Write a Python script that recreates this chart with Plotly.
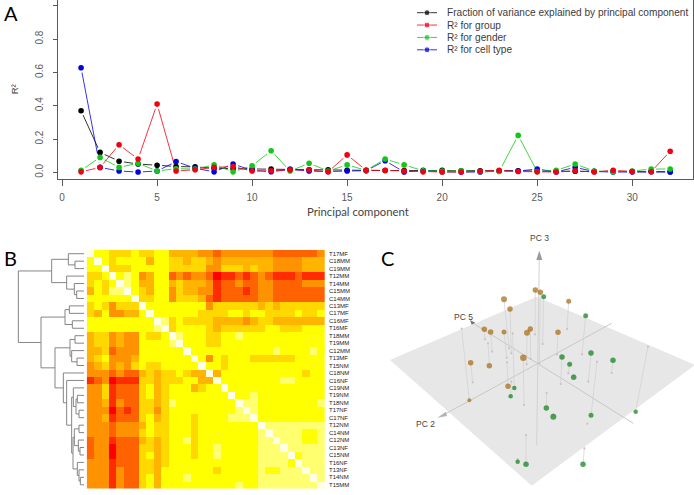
import plotly.graph_objects as go

W, H = 694, 495

# ---------- Panel A data ----------
pc = list(range(1, 33))
r2_variance = [0.37, 0.12, 0.067, 0.05, 0.043, 0.035, 0.033, 0.025, 0.022, 0.02, 0.02, 0.018, 0.016, 0.015, 0.013, 0.012,
               0.011, 0.011, 0.01, 0.012, 0.009, 0.009, 0.008, 0.01, 0.007, 0.007, 0.007, 0.006, 0.006, 0.005, 0.005, 0.004]
r2_group = [0.003, 0.03, 0.166, 0.08, 0.41, 0.008, 0.016, 0.03, 0.035, 0.008, 0.01, 0.015, 0.015, 0.003, 0.105, 0.012,
            0.012, 0.008, 0.003, 0.002, 0.002, 0.007, 0.012, 0.005, 0.003, 0.002, 0.009, 0.002, 0.013, 0.005, 0.004, 0.127]
r2_gender = [0.012, 0.09, 0.03, 0.055, 0.008, 0.022, 0.02, 0.045, 0.003, 0.04, 0.13, 0.008, 0.055, 0.008, 0.045, 0.012,
             0.08, 0.045, 0.01, 0.008, 0.01, 0.005, 0.005, 0.222, 0.005, 0.012, 0.05, 0.008, 0.003, 0.008, 0.02, 0.02]
r2_cell = [0.628, 0.03, 0.008, 0.002, 0.008, 0.065, 0.025, 0.003, 0.05, 0.012, 0.004, 0.018, 0.008, 0.005, 0.008, 0.01,
           0.07, 0.002, 0.012, 0.004, 0.002, 0.002, 0.008, 0.008, 0.02, 0.003, 0.03, 0.005, 0.002, 0.003, 0.005, 0.002]
legend_names = ["Fraction of variance explained by principal component", "R² for group", "R² for gender",
                "R² for cell type"]
legend_colors = ["#000000", "#f00010", "#10c818", "#0000e0"]

# ---------- Panel B data ----------
sample_labels = ["T17MF", "C18MM", "C19MM", "T12MM", "T14MM", "C15MM", "C14MM", "C13MF", "C17MF", "C16MF", "T16MF",
                 "T18MM", "T19MM", "C12MM", "T13MF", "T15NM", "C18NM", "C16NF", "C19NM", "T19NM", "T18NM", "T17NF",
                 "C17NF", "T12NM", "C14NM", "C12NM", "C13NF", "C15NM", "T16NF", "T13NF", "T14NM", "T15MM"]
heat_rows = [
    "9665556556 6444433233 3333322222 23",
    "6965666646 6554554344 4444433334 44",
    "6695556666 6555553355 5454433334 44",
    "5569676346 6232332011 2123211121 11",
    "5656976446 6454443122 3223322223 33",
    "4657796546 6354433122 2123322222 22",
    "6666669556 6355542122 2223322222 22",
    "5653555966 6666663555 5554545555 55",
    "5463344696 6666655556 6566555565 56",
    "6666666669 7565555444 4345544444 44",
    "6666666667 9566665455 5555665556 66",
    "4553433655 6976665566 7666666666 66",
    "4553433666 6796665566 6666666666 66",
    "4452333666 6669666666 6666676666 76",
    "4563334666 6666963656 6655555566 66",
    "3453435655 6666696656 6666666666 66",
    "3332322454 5565449466 6666666665 66",
    "1230111554 5556644966 6666667766 66",
    "3351222564 5666456696 6666666666 66",
    "3351222564 5666666669 6676666666 66",
    "3341322554 5766666666 9776666666 67",
    "3330212553 5666666666 7976666666 66",
    "3341222564 5666566667 7796666666 66",
    "3332333465 5666566666 6669777777 77",
    "3332333565 5666566666 6667977776 67",
    "2331222454 5667566666 6667797776 67",
    "2330222554 5666566766 6667779777 77",
    "2330222564 5666566766 6667777967 77",
    "3331222554 5666666666 6667777697 77",
    "3331322554 6666666566 6667667779 77",
    "3331322564 6667666666 6667777777 97",
    "3331322564 6666666666 7667777777 79",
]
heat_colors = ["#ff0000", "#ff2c00", "#ff6200", "#ff9200", "#ffb400", "#ffd800",
               "#ffff00", "#ffff70", "#ffffb8", "#ffffe6"]

# merge tree: (branch height, left, right); integers are rows of the heat map
dendro_tree = (197,
    (97, (47, 0, (27, 1, 2)), (52, 3, (29, 4, (22, 5, 6)))),
    (129,
        (57, (44, 7, 8), (35, 9, 10)),
        (87,
            (42, (27, 11, 12), (37, 13, (21, 14, 15))),
            (62, 16, (52, 17,
                (37,
                    (32, 18, (24, (20, 19, 20), (15, 21, 22))),
                    (33,
                        (29, (15, 23, 24), (17, 25, (12, 26, 27))),
                        (20, 28, (15, 29, (11, 30, 31))))))))))

# ---------- Panel C data (projected view of PC2 / PC5 / PC3) ----------
plane_x = [470, 945, 455, 30, 470]
plane_y = [185, 390, 752, 375, 185]
pc2_axis_x, pc2_axis_y = [695, 190], [265, 540]
pc5_axis_x, pc5_axis_y = [275, 760], [262, 565]
pc3_axis_x, pc3_axis_y = [478, 470], [60, 630]
pc3_head_x, pc3_head_y = [478, 469, 487, 478], [47, 75, 75, 47]
pc5_head_x, pc5_head_y = [270, 286, 275, 270], [255, 263, 269, 255]
pc2_head_x, pc2_head_y = [172, 198, 201, 172], [548, 530, 543, 548]

orange_x = [466, 481, 372, 390, 566, 313, 332, 372, 451, 441, 534, 430, 272, 328, 384, 268]
orange_y = [165, 172, 193, 222, 199, 283, 291, 291, 282, 293, 292, 368, 383, 392, 454, 496]
orange_size = [5, 5, 5.5, 5, 4.5, 5, 5, 4.5, 5, 5.5, 5, 6, 5, 5, 5, 3.5]
orange_base_x = [465, 478, 387, 394, 561, 315, 336, 380, 452, 440, 531, 432, 278, 324, 381, 245]
orange_base_y = [298, 385, 340, 355, 282, 313, 350, 368, 372, 388, 358, 510, 442, 325, 382, 281]

green_x = [491, 617, 633, 546, 699, 569, 581, 403, 392, 499, 633, 520, 767, 413, 438, 609]
green_y = [185, 242, 354, 366, 376, 388, 427, 459, 484, 519, 541, 545, 530, 680, 688, 688]
green_size = [4.5, 4.5, 5, 5, 5, 4.5, 5, 4, 4, 5, 4.5, 5.5, 4, 4, 5, 5]
green_base_x = [488, 606, 625, 542, 695, 565, 581, 398, 394, 500, 651, 520, 804, 413, 438, 613]
green_base_y = [327, 358, 440, 447, 414, 415, 420, 295, 440, 474, 380, 538, 335, 672, 600, 640]
extra_base_x = [622]
extra_base_y = [566]


def fx(px):
    return px / W


def fy(px):
    return 1 - px / H


fig = go.Figure()

# ---------- A ----------
series = [(legend_names[0], r2_variance, legend_colors[0]),
          (legend_names[3], r2_cell, legend_colors[3]),
          (legend_names[2], r2_gender, legend_colors[2]),
          (legend_names[1], r2_group, legend_colors[1])]
for name, vals, col in series:
    fig.add_trace(go.Scatter(x=pc, y=vals, mode="lines+markers", showlegend=False, name=name, hoverinfo="skip",
                             line=dict(color=col, width=0.8), marker=dict(color="white", size=10)))
for name, vals, col in series:
    fig.add_trace(go.Scatter(x=pc, y=vals, mode="markers", showlegend=False, name=name, cliponaxis=False,
                             marker=dict(color=col, size=5.6)))
# key drawn in its own small axis so rows can sit as tightly as the reference's
for i, (name, col) in enumerate(zip(legend_names, legend_colors)):
    fig.add_trace(go.Scatter(x=[0, 1, 2], y=[i, i, i], xaxis="x5", yaxis="y5", mode="lines+markers", showlegend=False,
                             name=name, line=dict(color=col, width=0.8), marker=dict(color=col, size=[0, 6, 0])))

# ---------- B ----------
z = [[int(c) for c in row.replace(" ", "")] for row in heat_rows]
n_levels = len(heat_colors) - 1
fig.add_trace(go.Heatmap(z=z, x=sample_labels, y=sample_labels, xaxis="x2", yaxis="y2", showscale=False, zmin=0,
                         zmax=n_levels, xgap=0, ygap=0,
                         colorscale=[[i / n_levels, c] for i, c in enumerate(heat_colors)]))

seg_x, seg_y = [], []


def walk(node):
    if isinstance(node, int):
        return node, 0
    h, a, b = node
    ya, ha = walk(a)
    yb, hb = walk(b)
    seg_x.extend([ha, h, h, hb, None])
    seg_y.extend([ya, ya, yb, yb, None])
    return (ya + yb) / 2, h


walk(dendro_tree)
fig.add_trace(go.Scatter(x=seg_x, y=seg_y, xaxis="x3", yaxis="y3", mode="lines", showlegend=False,
                         line=dict(color="#858585", width=1)))

# ---------- C ----------
fig.add_trace(go.Scatter(x=plane_x, y=plane_y, xaxis="x4", yaxis="y4", mode="lines", fill="toself",
                         fillcolor="#e7e7e7", line=dict(width=0), showlegend=False))
for ax, ay, col in [(pc2_axis_x, pc2_axis_y, "#c8c8c8"), (pc5_axis_x, pc5_axis_y, "#c8c8c8"),
                    (pc3_axis_x, pc3_axis_y, "#d2d2d2")]:
    fig.add_trace(go.Scatter(x=ax, y=ay, xaxis="x4", yaxis="y4", mode="lines", showlegend=False,
                             line=dict(color=col, width=1)))
for ax, ay, col in [(pc3_head_x, pc3_head_y, "#9a9a9a"), (pc5_head_x, pc5_head_y, "#777777"),
                    (pc2_head_x, pc2_head_y, "#b4b4b4")]:
    fig.add_trace(go.Scatter(x=ax, y=ay, xaxis="x4", yaxis="y4", mode="lines", fill="toself", fillcolor=col,
                             line=dict(width=0), showlegend=False))
stem_x, stem_y = [], []
for xs, ys, bx, by in [(orange_x, orange_y, orange_base_x, orange_base_y),
                       (green_x, green_y, green_base_x, green_base_y)]:
    for a, b, c, d in zip(xs, ys, bx, by):
        stem_x.extend([a, c, None])
        stem_y.extend([b, d, None])
fig.add_trace(go.Scatter(x=stem_x, y=stem_y, xaxis="x4", yaxis="y4", mode="lines", showlegend=False,
                         line=dict(color="#d0d0d0", width=0.7)))
fig.add_trace(go.Scatter(x=orange_base_x + green_base_x + extra_base_x, y=orange_base_y + green_base_y + extra_base_y,
                         xaxis="x4", yaxis="y4", mode="markers", showlegend=False,
                         marker=dict(color="#c4c4c4", size=2.2)))
fig.add_trace(go.Scatter(x=orange_x, y=orange_y, xaxis="x4", yaxis="y4", mode="markers", showlegend=False,
                         marker=dict(color="#a56a0e", size=[s + 0.5 for s in orange_size], line=dict(width=0))))
fig.add_trace(go.Scatter(x=green_x, y=green_y, xaxis="x4", yaxis="y4", mode="markers", showlegend=False,
                         marker=dict(color="#0a7d18", size=[s + 0.5 for s in green_size], line=dict(width=0))))

letter = dict(font=dict(family="Lato", size=20, color="#000000"), showarrow=False, xref="paper", yref="paper",
              xanchor="left", yanchor="middle")
small = dict(font=dict(family="Liberation Sans", size=8.5, color="#444444"), showarrow=False, xref="x4", yref="y4")
key = dict(font=dict(family="Liberation Sans", size=10.1, color="#3c3c3c"), showarrow=False, xref="paper", yref="y5",
           xanchor="left", x=fx(445))

grey = "#5a5a5a"
fig.update_layout(
    width=W, height=H, margin=dict(l=0, r=0, t=0, b=0), paper_bgcolor="white", plot_bgcolor="rgba(0,0,0,0)",
    font=dict(family="Liberation Sans", color=grey, size=10),
    showlegend=False,
    xaxis=dict(domain=[fx(57.5), fx(693)], range=[-0.24, 33.2], tickvals=[0, 5, 10, 15, 20, 25, 30], ticks="outside",
               ticklen=6, tickcolor=grey, showgrid=False, zeroline=False, showline=True, linecolor=grey, mirror=True,
               ticklabelstandoff=3),
    yaxis=dict(domain=[fy(178.7), fy(0)], range=[-0.038, 1.035], tickvals=[0, 0.2, 0.4, 0.6, 0.8, 1], tickformat=".1f",
               tickangle=-90, ticks="outside", ticklen=4, tickcolor=grey, showgrid=False, zeroline=False, showline=True,
               linecolor=grey, mirror=True, ticklabelstandoff=6,
               title=dict(text="R²", standoff=13, font=dict(size=9.5, color="#444444"))),
    xaxis2=dict(domain=[fx(86.7), fx(325)], anchor="y2", visible=False),
    yaxis2=dict(domain=[fy(488.5), fy(250)], anchor="x2", side="right", autorange="reversed", tickmode="array",
                tickvals=sample_labels, ticks="", showgrid=False, zeroline=False,
                tickfont=dict(size=6, color="#222222"), ticklabelstandoff=3),
    xaxis3=dict(domain=[fx(15), fx(84)], anchor="y3", range=[207, 0], visible=False),
    yaxis3=dict(domain=[fy(488.5), fy(250)], anchor="x3", range=[31.5, -0.5], visible=False),
    xaxis4=dict(domain=[fx(380), 1], anchor="y4", range=[0, 942], visible=False),
    yaxis4=dict(domain=[0, fy(235)], anchor="x4", range=[780, 0], visible=False),
    xaxis5=dict(domain=[fx(417), fx(437)], anchor="y5", range=[0, 2], visible=False),
    yaxis5=dict(domain=[fy(56), fy(6.5)], anchor="x5", range=[3.5, -0.5], visible=False),
    annotations=[
        dict(text="A", x=fx(2), y=fy(12.5), **letter),
        dict(text="B", x=fx(2), y=fy(258), **letter),
        dict(text="C", x=fx(379), y=fy(258), **letter),
        dict(text="Principal component", x=fx(357.5), y=fy(211), xref="paper", yref="paper", showarrow=False,
             font=dict(family="Lato", size=11.3, color="#444444")),
        dict(text="PC 3", x=477, y=10, **small),
        dict(text="PC 5", x=251, y=246, **small),
        dict(text="PC 2", x=138, y=567, **small),
    ] + [dict(text=name, y=i, **key) for i, name in enumerate(legend_names)],
)
fig.write_html("out.html", config=dict(displayModeBar=False),
               post_script="document.body.style.margin='0';document.documentElement.style.overflow='hidden';")
